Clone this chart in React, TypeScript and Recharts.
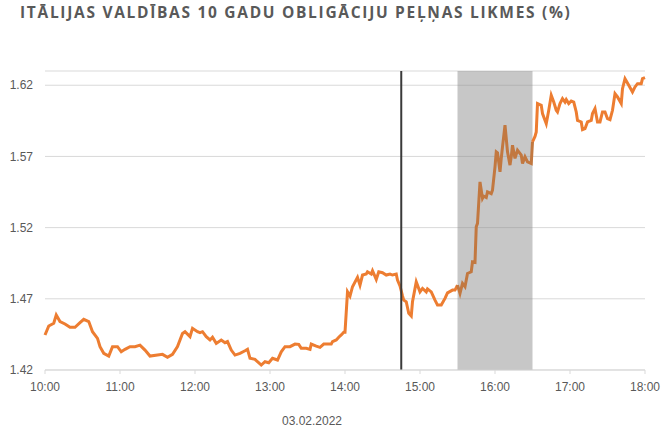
import {
  LineChart,
  Line,
  XAxis,
  YAxis,
  CartesianGrid,
  ReferenceLine,
  ReferenceArea,
} from 'recharts'

// minutes after 10:00
const minutes = [
  0, 3, 7, 9, 12, 16, 20, 24, 28, 31, 35, 38, 42, 44, 47, 51, 54, 58, 61, 64,
  68, 72, 76, 80, 84, 90, 94, 98, 102, 106, 110, 112, 116, 118, 122, 124, 126, 129, 132, 134,
  137, 141, 144, 146, 149, 152, 156, 160, 162, 164, 168, 170, 173, 176, 179, 182, 186, 189, 192, 196,
  200, 203, 205, 209, 212, 213, 217, 220, 223, 229, 230, 233, 235, 237, 239, 240, 242, 244, 246, 250,
  252, 254, 257, 258, 261, 262, 265, 267, 270, 273, 276, 278, 281, 282, 284, 286, 287, 289, 291, 293,
  294, 297, 300, 302, 305, 306, 309, 312, 314, 317, 320, 322, 326, 328, 330, 332, 334, 336, 338, 341,
  342, 344, 345, 346, 348, 350, 351, 353, 354, 357, 358, 360, 361, 362, 364, 365, 366, 368, 370, 372,
  373, 374, 376, 378, 381, 382, 384, 386, 389, 390, 392, 393, 394, 397, 398, 401, 403, 405, 407, 409,
  410, 412, 414, 416, 417, 419, 421, 423, 425, 426, 429, 430, 432, 434, 437, 438, 440, 442, 444, 446,
  448, 450, 452, 454, 456, 458, 461, 462, 464, 467, 470, 472, 474, 477, 478, 480,
]

const yields = [
  1.4446, 1.4509, 1.4528, 1.4586, 1.454, 1.4523, 1.45, 1.45, 1.4532, 1.4556, 1.454, 1.4469, 1.4422, 1.4364, 1.4317, 1.4298, 1.4364, 1.4364, 1.4328, 1.4345,
  1.4364, 1.4364, 1.4375, 1.434, 1.4298, 1.4305, 1.431, 1.4289, 1.431, 1.4364, 1.4457, 1.4469, 1.4434, 1.4493, 1.4469, 1.4462, 1.4469, 1.4434, 1.4411, 1.443,
  1.4387, 1.4411, 1.4392, 1.44, 1.434, 1.4305, 1.4317, 1.4335, 1.4345, 1.4282, 1.4275, 1.4258, 1.4235, 1.4258, 1.4251, 1.4282, 1.427, 1.4328, 1.4364, 1.4364,
  1.4382, 1.438, 1.4352, 1.4352, 1.4345, 1.4382, 1.4368, 1.4359, 1.4382, 1.4382, 1.4399, 1.4411, 1.443, 1.4446, 1.4465, 1.4465, 1.4749, 1.4719, 1.4785, 1.4851,
  1.4796, 1.4867, 1.4874, 1.489, 1.4874, 1.4897, 1.4836, 1.489, 1.4883, 1.4867, 1.4874, 1.4867, 1.4874, 1.4832, 1.479, 1.472, 1.4691, 1.4679, 1.4598, 1.4579,
  1.4679, 1.4819, 1.4749, 1.4773, 1.4749, 1.477, 1.4749, 1.4691, 1.4656, 1.4656, 1.4703, 1.4742, 1.4761, 1.4761, 1.4796, 1.4738, 1.4808, 1.4785, 1.4878, 1.489,
  1.496, 1.4956, 1.5206, 1.523, 1.5521, 1.5405, 1.5421, 1.5412, 1.5451, 1.5439, 1.5463, 1.5627, 1.5732, 1.5725, 1.5592, 1.5686, 1.5767, 1.592, 1.5732, 1.5639,
  1.5697, 1.5779, 1.5686, 1.5744, 1.5709, 1.565, 1.5697, 1.5662, 1.565, 1.5802, 1.584, 1.5872, 1.6071, 1.6059, 1.6001, 1.593, 1.6024, 1.6129, 1.6082, 1.6024,
  1.6012, 1.6071, 1.6106, 1.6082, 1.6099, 1.6071, 1.6089, 1.6082, 1.6012, 1.5953, 1.5942, 1.5888, 1.5895, 1.5942, 1.5953, 1.6001, 1.6036, 1.5942, 1.5942, 1.6012,
  1.6012, 1.5965, 1.5958, 1.6024, 1.6141, 1.6118, 1.6071, 1.6176, 1.6246, 1.62, 1.6153, 1.6188, 1.6211, 1.6211, 1.6246, 1.6253,
]

const xTicks = [0, 60, 120, 180, 240, 300, 360, 420, 480]
const yTicks = [1.42, 1.47, 1.52, 1.57, 1.62]

const eventMinute = 285 // 14:45
const bandStart = 330 // 15:30
const bandEnd = 390 // 16:30

// the part of the line under the grey band is drawn in a tinted colour,
// since the band itself can't be layered above the line
const data = minutes.map((m, i) => {
  const inBand = m >= bandStart && m <= bandEnd
  return {
    t: m,
    out: m <= bandStart || m >= bandEnd ? yields[i] : null,
    inside: inBand ? yields[i] : null,
  }
})

const formatTime = (v: unknown) => {
  const m = Number(v)
  const h = 10 + Math.floor(m / 60)
  const mm = m % 60
  return `${h}:${mm < 10 ? '0' : ''}${mm}`
}

const tickStyle = { fontSize: 12, fill: '#595959', fontFamily: '"Liberation Sans", Arial, sans-serif' }

export default function App() {
  return (
    <div style={{ position: 'absolute', left: 0, top: 0, width: 663, height: 433, background: '#fff' }}>
      <div
        style={{
          position: 'absolute',
          left: 20,
          top: 2,
          fontFamily: '"Open Sans", sans-serif',
          fontWeight: 700,
          fontSize: 15.5,
          letterSpacing: 1.7,
          lineHeight: '20px',
          color: '#595959',
          whiteSpace: 'nowrap',
        }}
      >
        ITĀLIJAS VALDĪBAS 10 GADU OBLIGĀCIJU PEĻŅAS LIKMES (%)
      </div>
      <LineChart
        width={663}
        height={433}
        data={data}
        margin={{ top: 71, right: 18, bottom: 33, left: 5 }}
      >
        <CartesianGrid stroke="#d9d9d9" vertical={false} />
        <XAxis
          dataKey="t"
          type="number"
          domain={[0, 480]}
          ticks={xTicks}
          tickFormatter={formatTime}
          tick={tickStyle}
          stroke="#d9d9d9"
          tickSize={4}
          tickMargin={8}
          height={30}
        />
        <YAxis
          type="number"
          domain={[1.42, 1.63]}
          ticks={yTicks}
          tickFormatter={(v: unknown) => Number(v).toFixed(2)}
          tick={tickStyle}
          axisLine={false}
          tickLine={false}
          tickSize={6}
          tickMargin={6}
          width={40}
        />
        <ReferenceArea x1={bandStart} x2={bandEnd} fill="#8a8a8a" fillOpacity={0.48} stroke="none" />
        <Line
          type="linear"
          dataKey="out"
          stroke="#ed7d31"
          strokeWidth={3}
          dot={false}
          activeDot={false}
          isAnimationActive={false}
        />
        <Line
          type="linear"
          dataKey="inside"
          stroke="#c27840"
          strokeWidth={3}
          dot={false}
          activeDot={false}
          isAnimationActive={false}
        />
        <ReferenceLine x={eventMinute} stroke="#3a3a3a" strokeWidth={2} />
      </LineChart>
      <div
        style={{
          position: 'absolute',
          left: 262,
          top: 414,
          width: 100,
          textAlign: 'center',
          fontFamily: '"Liberation Sans", Arial, sans-serif',
          fontSize: 12,
          lineHeight: '14px',
          color: '#595959',
        }}
      >
        03.02.2022
      </div>
    </div>
  )
}
